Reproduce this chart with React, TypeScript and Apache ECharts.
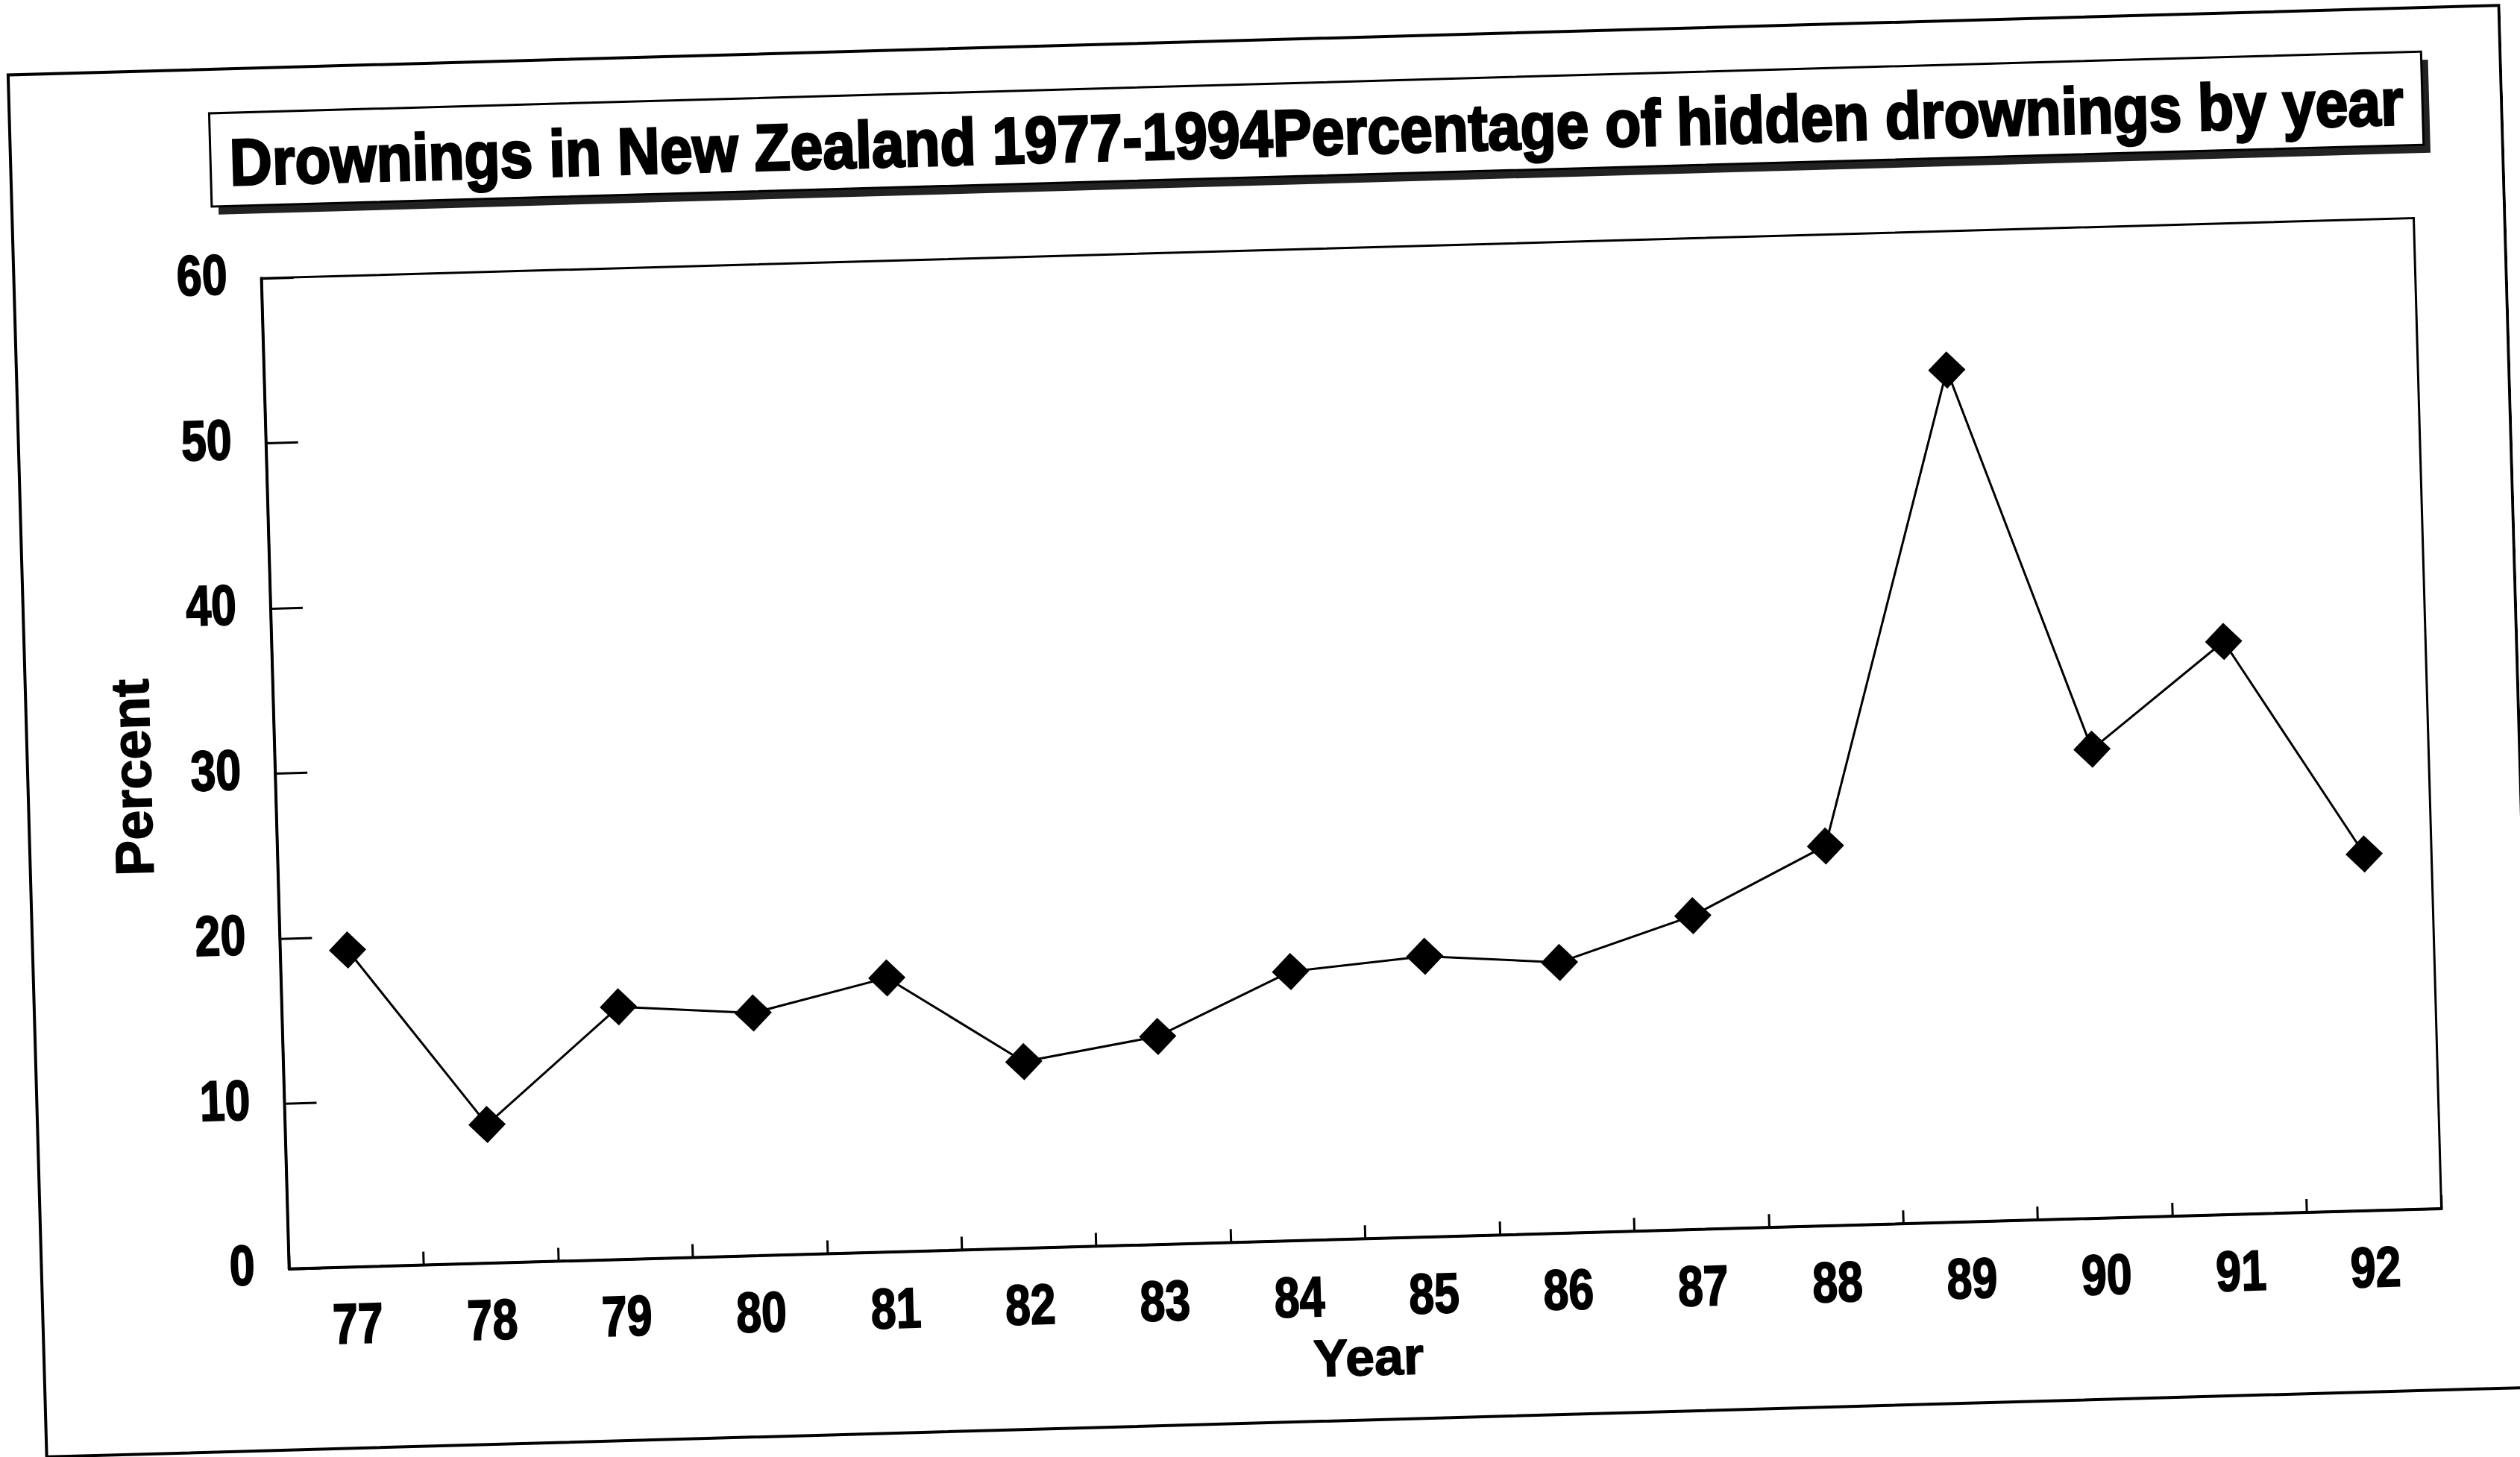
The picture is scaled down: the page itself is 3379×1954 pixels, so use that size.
import React, { useEffect, useRef } from "react";
import * as echarts from "echarts";

// ---- data ----
const years = ["77", "78", "79", "80", "81", "82", "83", "84", "85", "86", "87", "88", "89", "90", "91", "92"];
const hiddenPercent = [19.2, 8.4, 15.3, 14.7, 16.6, 11.3, 12.6, 16.3, 17.0, 16.4, 19.0, 23.0, 51.6, 28.4, 34.7, 21.6];
const yTickValues = [0, 10, 20, 30, 40, 50, 60];
const titleText = "Drownings in New Zealand 1977-1994Percentage of hidden drownings by year";
const xAxisTitle = "Year";
const yAxisTitle = "Percent";

const FONT = '"Liberation Sans", Arial, sans-serif';
const W = 3379;
const H = 1954;
const GRID = { left: 368, top: 336, width: 2887, height: 1329 };
const LABEL_FONT = `bold 76px ${FONT}`;
const LABEL_SCALE = 0.8;

function measure(text: string, font: string): number {
  const c = document.createElement("canvas");
  const ctx = c.getContext("2d");
  if (!ctx) return 0;
  ctx.font = font;
  return ctx.measureText(text).width;
}

export default function App() {
  const ref = useRef<HTMLDivElement>(null);

  useEffect(() => {
    if (!ref.current) return;
    const chart = echarts.init(ref.current, undefined, { renderer: "svg" });

    chart.setOption({
      animation: false,
      backgroundColor: "#fff",
      grid: {
        ...GRID,
        show: true,
        borderColor: "#000",
        borderWidth: 3,
        backgroundColor: "transparent",
      },
      xAxis: {
        type: "category",
        data: years,
        boundaryGap: true,
        axisLine: { show: true, lineStyle: { color: "#000", width: 4 } },
        axisTick: { show: true, inside: true, length: 18, lineStyle: { color: "#000", width: 3 } },
        axisLabel: { show: false },
        splitLine: { show: false },
        name: xAxisTitle,
        nameLocation: "middle",
        nameGap: 124,
        nameTextStyle: {
          color: "#000",
          fontFamily: FONT,
          fontWeight: "bold",
          fontSize: 70,
          textBorderColor: "#000",
          textBorderWidth: 1.5,
        },
      },
      yAxis: {
        type: "value",
        min: yTickValues[0],
        max: yTickValues[yTickValues.length - 1],
        interval: yTickValues[1] - yTickValues[0],
        axisLine: { show: true, lineStyle: { color: "#000", width: 4 } },
        axisTick: { show: true, inside: true, length: 43, lineStyle: { color: "#000", width: 3 } },
        axisLabel: { show: false },
        splitLine: { show: false },
        name: yAxisTitle,
        nameLocation: "middle",
        nameRotate: 90,
        nameGap: 156,
        nameTextStyle: {
          color: "#000",
          fontFamily: FONT,
          fontWeight: "bold",
          fontSize: 72,
          textBorderColor: "#000",
          textBorderWidth: 1.5,
        },
      },
      series: [
        {
          type: "line",
          data: hiddenPercent,
          symbol: "diamond",
          symbolSize: [50, 50],
          showSymbol: true,
          itemStyle: { color: "#000" },
          lineStyle: { color: "#000", width: 3 },
        },
      ],
    });

    // tick labels placed with the library's own scales (condensed look via scaleX)
    const y0 = chart.convertToPixel({ yAxisIndex: 0 }, yTickValues[0]) as number;
    const labelStyle = { font: LABEL_FONT, fill: "#000", stroke: "#000", lineWidth: 2, verticalAlign: "middle" };
    const xLabels = years.map((cat) => ({
      type: "text",
      silent: true,
      x: chart.convertToPixel({ xAxisIndex: 0 }, cat) as number,
      y: y0 + 76,
      scaleX: LABEL_SCALE,
      style: { ...labelStyle, text: cat, align: "center" },
    }));
    const yLabels = yTickValues.map((v) => ({
      type: "text",
      silent: true,
      x: GRID.left - 46,
      y: (chart.convertToPixel({ yAxisIndex: 0 }, v) as number) - 6,
      scaleX: LABEL_SCALE,
      style: { ...labelStyle, text: String(v), align: "right" },
    }));

    const titleFont = `bold 88px ${FONT}`;
    const titleTargetW = 2915;
    const mw = measure(titleText, titleFont);
    const titleScale = mw > 0 ? titleTargetW / mw : 1;
    const box = { x: 304, y: 113, w: 2967, h: 125 };

    chart.setOption({
      graphic: [
        {
          type: "rect",
          silent: true,
          z: -1,
          shape: { x: 36, y: 54, width: 3341, height: 1854 },
          style: { fill: "none", stroke: "#000", lineWidth: 4 },
        },
        {
          type: "rect",
          silent: true,
          shape: { x: box.x + 9, y: box.y + 11, width: box.w, height: box.h },
          style: { fill: "#222", stroke: "none" },
        },
        {
          type: "rect",
          silent: true,
          shape: { x: box.x, y: box.y, width: box.w, height: box.h },
          style: { fill: "#fff", stroke: "#000", lineWidth: 3 },
        },
        {
          type: "text",
          silent: true,
          x: box.x + box.w / 2,
          y: box.y + box.h / 2 + 4,
          scaleX: titleScale,
          style: {
            text: titleText,
            font: titleFont,
            fill: "#000",
            stroke: "#000",
            lineWidth: 3,
            align: "center",
            verticalAlign: "middle",
          },
        },
        ...xLabels,
        ...yLabels,
      ],
    });

    return () => {
      chart.dispose();
    };
  }, []);

  return (
    <div
      style={{
        position: "fixed",
        left: 0,
        top: 0,
        width: "100vw",
        height: "100vh",
        overflow: "hidden",
        background: "#fff",
      }}
    >
      <div
        style={{
          position: "absolute",
          left: 0,
          top: 0,
          width: W,
          height: H,
          transform: "rotate(-1.6deg)",
          transformOrigin: `${W / 2}px ${H / 2}px`,
        }}
      >
        <div ref={ref} style={{ width: W, height: H }} />
      </div>
    </div>
  );
}
